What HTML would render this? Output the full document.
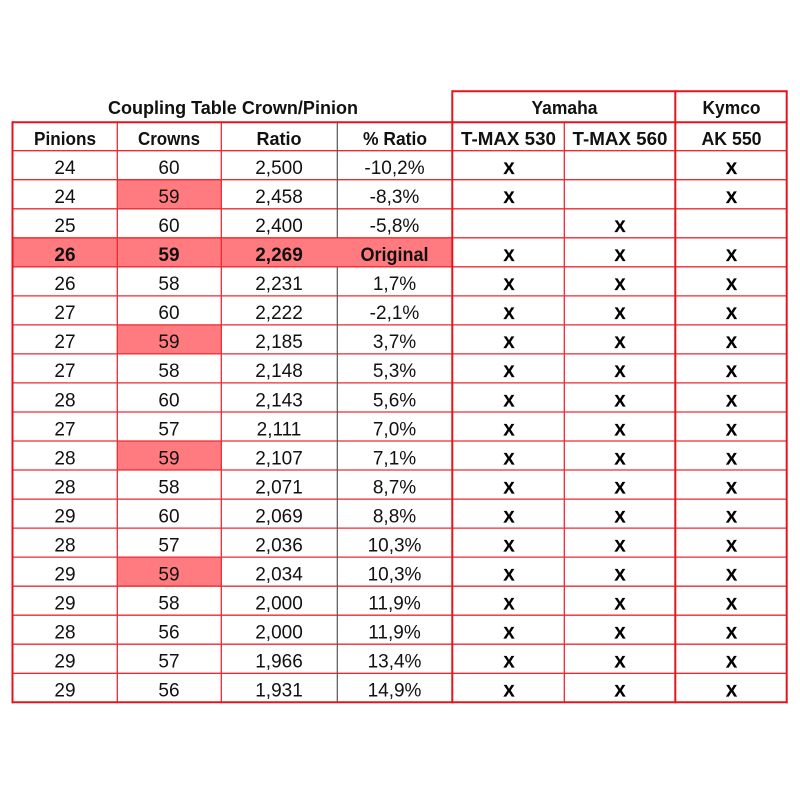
<!DOCTYPE html>
<html>
<head>
<meta charset="utf-8">
<style>
html,body{margin:0;padding:0;background:#fff;}
svg{display:block;}
text{font-family:"Liberation Sans",Arial,sans-serif;fill:#111;}
.xm text{fill:#000;stroke:#000;stroke-width:0.35;}
</style>
</head>
<body>
<svg width="800" height="800" viewBox="0 0 800 800" xmlns="http://www.w3.org/2000/svg">
<rect width="800" height="800" fill="#fff"/>
<!-- highlights -->
<rect x="12.5" y="238.3" width="439.8" height="29.2" fill="#ff7b7f"/>
<rect x="117.3" y="180.0" width="104" height="29" fill="#ff7b7f"/>
<rect x="117.3" y="325.2" width="104" height="29" fill="#ff7b7f"/>
<rect x="117.3" y="441.3" width="104" height="29" fill="#ff7b7f"/>
<rect x="117.3" y="557.5" width="104" height="29" fill="#ff7b7f"/>

<!-- horizontal inner lines -->
<g stroke="#ec2a30" stroke-width="1.3">
<line x1="12.5" y1="150.7" x2="786.7" y2="150.7"/>
<line x1="12.5" y1="179.7" x2="786.7" y2="179.7"/>
<line x1="12.5" y1="208.8" x2="786.7" y2="208.8"/>
<line x1="12.5" y1="237.8" x2="786.7" y2="237.8"/>
<line x1="12.5" y1="266.8" x2="786.7" y2="266.8"/>
<line x1="12.5" y1="295.9" x2="786.7" y2="295.9"/>
<line x1="12.5" y1="324.9" x2="786.7" y2="324.9"/>
<line x1="12.5" y1="353.9" x2="786.7" y2="353.9"/>
<line x1="12.5" y1="382.9" x2="786.7" y2="382.9"/>
<line x1="12.5" y1="412.0" x2="786.7" y2="412.0"/>
<line x1="12.5" y1="441.0" x2="786.7" y2="441.0"/>
<line x1="12.5" y1="470.0" x2="786.7" y2="470.0"/>
<line x1="12.5" y1="499.1" x2="786.7" y2="499.1"/>
<line x1="12.5" y1="528.1" x2="786.7" y2="528.1"/>
<line x1="12.5" y1="557.1" x2="786.7" y2="557.1"/>
<line x1="12.5" y1="586.2" x2="786.7" y2="586.2"/>
<line x1="12.5" y1="615.2" x2="786.7" y2="615.2"/>
<line x1="12.5" y1="644.2" x2="786.7" y2="644.2"/>
<line x1="12.5" y1="673.3" x2="786.7" y2="673.3"/>
<!-- inner verticals -->
<line x1="117.3" y1="122.3" x2="117.3" y2="702.3"/>
<line x1="221.3" y1="122.3" x2="221.3" y2="702.3"/>
<line x1="564.3" y1="122.3" x2="564.3" y2="702.3"/>
</g>
<!-- gray line -->
<g stroke="#555" stroke-width="1.2">
<line x1="337.3" y1="122.3" x2="337.3" y2="238"/>
<line x1="337.3" y1="267.5" x2="337.3" y2="702.3"/>
</g>
<!-- outer/thick lines -->
<g stroke="#e3161d" stroke-width="2" fill="none">
<line x1="12.5" y1="122.3" x2="786.7" y2="122.3"/>
<line x1="452.3" y1="91.3" x2="786.7" y2="91.3"/>
<line x1="12.5" y1="121.3" x2="12.5" y2="703.3"/>
<line x1="452.3" y1="90.3" x2="452.3" y2="703.3"/>
<line x1="675.3" y1="90.3" x2="675.3" y2="703.3"/>
<line x1="786.7" y1="90.3" x2="786.7" y2="703.3"/>
<line x1="11.5" y1="702.3" x2="787.7" y2="702.3"/>
</g>

<!-- header text -->
<g font-weight="bold" font-size="18" text-anchor="middle">
<text x="233" y="114" textLength="250" lengthAdjust="spacingAndGlyphs">Coupling Table Crown/Pinion</text>
<text x="564.5" y="114" textLength="66" lengthAdjust="spacingAndGlyphs">Yamaha</text>
<text x="731.5" y="114" textLength="58" lengthAdjust="spacingAndGlyphs">Kymco</text>
<text x="65" y="145" textLength="62" lengthAdjust="spacingAndGlyphs">Pinions</text>
<text x="169" y="145" textLength="62" lengthAdjust="spacingAndGlyphs">Crowns</text>
<text x="279" y="145">Ratio</text>
<text x="395" y="145" textLength="64" lengthAdjust="spacingAndGlyphs">% Ratio</text>
<text x="508.5" y="145" textLength="95" lengthAdjust="spacingAndGlyphs">T-MAX 530</text>
<text x="620" y="145" textLength="95" lengthAdjust="spacingAndGlyphs">T-MAX 560</text>
<text x="731.5" y="145" textLength="60" lengthAdjust="spacingAndGlyphs">AK 550</text>
</g>

<!-- data -->
<g font-size="19" text-anchor="middle">
<text x="65" y="174.0">24</text><text x="169" y="174.0">60</text><text x="279" y="174.0">2,500</text><text x="394.5" y="174.0">-10,2%</text>
<text x="65" y="203.0">24</text><text x="169" y="203.0">59</text><text x="279" y="203.0">2,458</text><text x="394.5" y="203.0">-8,3%</text>
<text x="65" y="232.1">25</text><text x="169" y="232.1">60</text><text x="279" y="232.1">2,400</text><text x="394.5" y="232.1">-5,8%</text>
<g font-weight="bold"><text x="65" y="261.1">26</text><text x="169" y="261.1">59</text><text x="279" y="261.1">2,269</text><text x="394.5" y="261.1" textLength="68" lengthAdjust="spacingAndGlyphs">Original</text></g>
<text x="65" y="290.2">26</text><text x="169" y="290.2">58</text><text x="279" y="290.2">2,231</text><text x="394.5" y="290.2">1,7%</text>
<text x="65" y="319.2">27</text><text x="169" y="319.2">60</text><text x="279" y="319.2">2,222</text><text x="394.5" y="319.2">-2,1%</text>
<text x="65" y="348.2">27</text><text x="169" y="348.2">59</text><text x="279" y="348.2">2,185</text><text x="394.5" y="348.2">3,7%</text>
<text x="65" y="377.2">27</text><text x="169" y="377.2">58</text><text x="279" y="377.2">2,148</text><text x="394.5" y="377.2">5,3%</text>
<text x="65" y="406.3">28</text><text x="169" y="406.3">60</text><text x="279" y="406.3">2,143</text><text x="394.5" y="406.3">5,6%</text>
<text x="65" y="435.3">27</text><text x="169" y="435.3">57</text><text x="279" y="435.3">2,111</text><text x="394.5" y="435.3">7,0%</text>
<text x="65" y="464.3">28</text><text x="169" y="464.3">59</text><text x="279" y="464.3">2,107</text><text x="394.5" y="464.3">7,1%</text>
<text x="65" y="493.4">28</text><text x="169" y="493.4">58</text><text x="279" y="493.4">2,071</text><text x="394.5" y="493.4">8,7%</text>
<text x="65" y="522.4">29</text><text x="169" y="522.4">60</text><text x="279" y="522.4">2,069</text><text x="394.5" y="522.4">8,8%</text>
<text x="65" y="551.4">28</text><text x="169" y="551.4">57</text><text x="279" y="551.4">2,036</text><text x="394.5" y="551.4">10,3%</text>
<text x="65" y="580.5">29</text><text x="169" y="580.5">59</text><text x="279" y="580.5">2,034</text><text x="394.5" y="580.5">10,3%</text>
<text x="65" y="609.5">29</text><text x="169" y="609.5">58</text><text x="279" y="609.5">2,000</text><text x="394.5" y="609.5">11,9%</text>
<text x="65" y="638.5">28</text><text x="169" y="638.5">56</text><text x="279" y="638.5">2,000</text><text x="394.5" y="638.5">11,9%</text>
<text x="65" y="667.6">29</text><text x="169" y="667.6">57</text><text x="279" y="667.6">1,966</text><text x="394.5" y="667.6">13,4%</text>
<text x="65" y="696.6">29</text><text x="169" y="696.6">56</text><text x="279" y="696.6">1,931</text><text x="394.5" y="696.6">14,9%</text>
</g>

<!-- X marks -->
<g class="xm" font-size="16.5" font-weight="bold" text-anchor="middle">
<text x="509" y="174.0">X</text><text x="731.5" y="174.0">X</text>
<text x="509" y="203.0">X</text><text x="731.5" y="203.0">X</text>
<text x="620" y="232.1">X</text>
<text x="509" y="261.1">X</text><text x="620" y="261.1">X</text><text x="731.5" y="261.1">X</text>
<text x="509" y="290.2">X</text><text x="620" y="290.2">X</text><text x="731.5" y="290.2">X</text>
<text x="509" y="319.2">X</text><text x="620" y="319.2">X</text><text x="731.5" y="319.2">X</text>
<text x="509" y="348.2">X</text><text x="620" y="348.2">X</text><text x="731.5" y="348.2">X</text>
<text x="509" y="377.2">X</text><text x="620" y="377.2">X</text><text x="731.5" y="377.2">X</text>
<text x="509" y="406.3">X</text><text x="620" y="406.3">X</text><text x="731.5" y="406.3">X</text>
<text x="509" y="435.3">X</text><text x="620" y="435.3">X</text><text x="731.5" y="435.3">X</text>
<text x="509" y="464.3">X</text><text x="620" y="464.3">X</text><text x="731.5" y="464.3">X</text>
<text x="509" y="493.4">X</text><text x="620" y="493.4">X</text><text x="731.5" y="493.4">X</text>
<text x="509" y="522.4">X</text><text x="620" y="522.4">X</text><text x="731.5" y="522.4">X</text>
<text x="509" y="551.4">X</text><text x="620" y="551.4">X</text><text x="731.5" y="551.4">X</text>
<text x="509" y="580.5">X</text><text x="620" y="580.5">X</text><text x="731.5" y="580.5">X</text>
<text x="509" y="609.5">X</text><text x="620" y="609.5">X</text><text x="731.5" y="609.5">X</text>
<text x="509" y="638.5">X</text><text x="620" y="638.5">X</text><text x="731.5" y="638.5">X</text>
<text x="509" y="667.6">X</text><text x="620" y="667.6">X</text><text x="731.5" y="667.6">X</text>
<text x="509" y="696.6">X</text><text x="620" y="696.6">X</text><text x="731.5" y="696.6">X</text>
</g>
</svg>
</body>
</html>
